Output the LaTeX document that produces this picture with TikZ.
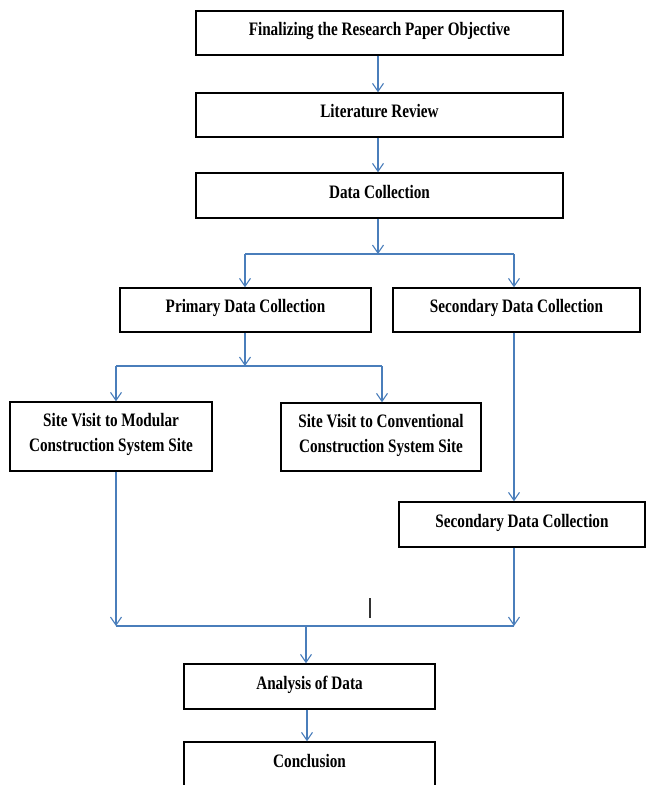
\documentclass[tikz,border=0pt]{standalone}
\usepackage{fontspec}
\setmainfont{Liberation Serif}[FakeStretch=0.8]
\usetikzlibrary{arrows.meta}
\definecolor{linkblue}{HTML}{4A7EBB}
\tikzset{
  box/.style={draw=black, line width=1.4pt, fill=white, inner sep=0pt,
    font=\fontsize{19}{25}\selectfont\bfseries, align=center,
    text height=13pt, text depth=8pt},
  twobox/.style={draw=black, line width=1.4pt, fill=white, inner sep=0pt,
    font=\fontsize{19}{25}\selectfont\bfseries, align=center},
  link/.style={draw=linkblue, line width=1.1pt},
  arr/.style={link, -{Straight Barb[length=8pt,width=11pt,line width=1.1pt]}},
  tick/.style={draw=black!80, line width=1.2pt}
}
\begin{document}
\begin{tikzpicture}[x=1pt,y=-1pt]
\useasboundingbox (0,0) rectangle (647,785);
\clip (0,0) rectangle (647,785);
\fill[white] (0,0) rectangle (647,785);

% boxes
\node[box, minimum width=367pt, minimum height=44pt] (b1) at (379.5,33) {Finalizing the Research Paper Objective};
\node[box, minimum width=367pt, minimum height=44pt] (b2) at (379.5,115) {Literature Review};
\node[box, minimum width=367pt, minimum height=45pt] (b3) at (379.5,195.5) {Data Collection};
\node[box, minimum width=251pt, minimum height=44pt] (prim) at (245.5,310) {Primary Data Collection};
\node[box, minimum width=247pt, minimum height=44pt] (sec1) at (516.5,310) {Secondary Data Collection};
\node[twobox, minimum width=202pt, minimum height=69pt, text depth=8pt] (mod) at (111,436.5) {Site Visit to Modular\\Construction System Site};
\node[twobox, minimum width=200pt, minimum height=68pt, text depth=8pt] (conv) at (381,437) {Site Visit to Conventional\\Construction System Site};
\node[box, minimum width=246pt, minimum height=45pt] (sec2) at (522,524.5) {Secondary Data Collection};
\node[box, minimum width=251pt, minimum height=45pt] (ana) at (309.5,686.5) {Analysis of Data};
\node[box, minimum width=251pt, minimum height=45pt] (conc) at (309.5,764.5) {Conclusion};

% junction coordinates
\coordinate (c0) at (378,0);
\coordinate (c1) at (307,0);
\coordinate (s1) at (378,254);
\coordinate (sL) at (245,254);
\coordinate (sR) at (514,254);
\coordinate (p1) at (245,366);
\coordinate (pL) at (116,366);
\coordinate (pR) at (382,366);
\coordinate (mL) at (116,626);
\coordinate (mR) at (514,626);
\coordinate (mM) at (306,626);
\coordinate (t1) at (370,598);
\coordinate (t2) at (370,618);

% connectors
\draw[arr] (b1.south -| c0) -- (b2.north -| c0);
\draw[arr] (b2.south -| c0) -- (b3.north -| c0);
\draw[arr] (b3.south -| s1) -- (s1);
\draw[link] (sL) -- (sR);
\draw[arr] (sL) -- (sL |- prim.north);
\draw[arr] (sR) -- (sR |- sec1.north);

\draw[arr] (prim.south -| p1) -- (p1);
\draw[link] (pL) -- (pR);
\draw[arr] (pL) -- (pL |- mod.north);
\draw[arr] (pR) -- (pR |- conv.north);

\draw[arr] (sec1.south -| sR) -- (sR |- sec2.north);

\draw[arr] (mod.south -| mL) -- (mL);
\draw[arr] (sec2.south -| mR) -- (mR);
\draw[link] (mL) -- (mR);
\draw[arr] (mM) -- (mM |- ana.north);
\draw[arr] (ana.south -| c1) -- (conc.north -| c1);

\draw[tick] (t1) -- (t2);
\end{tikzpicture}
\end{document}
